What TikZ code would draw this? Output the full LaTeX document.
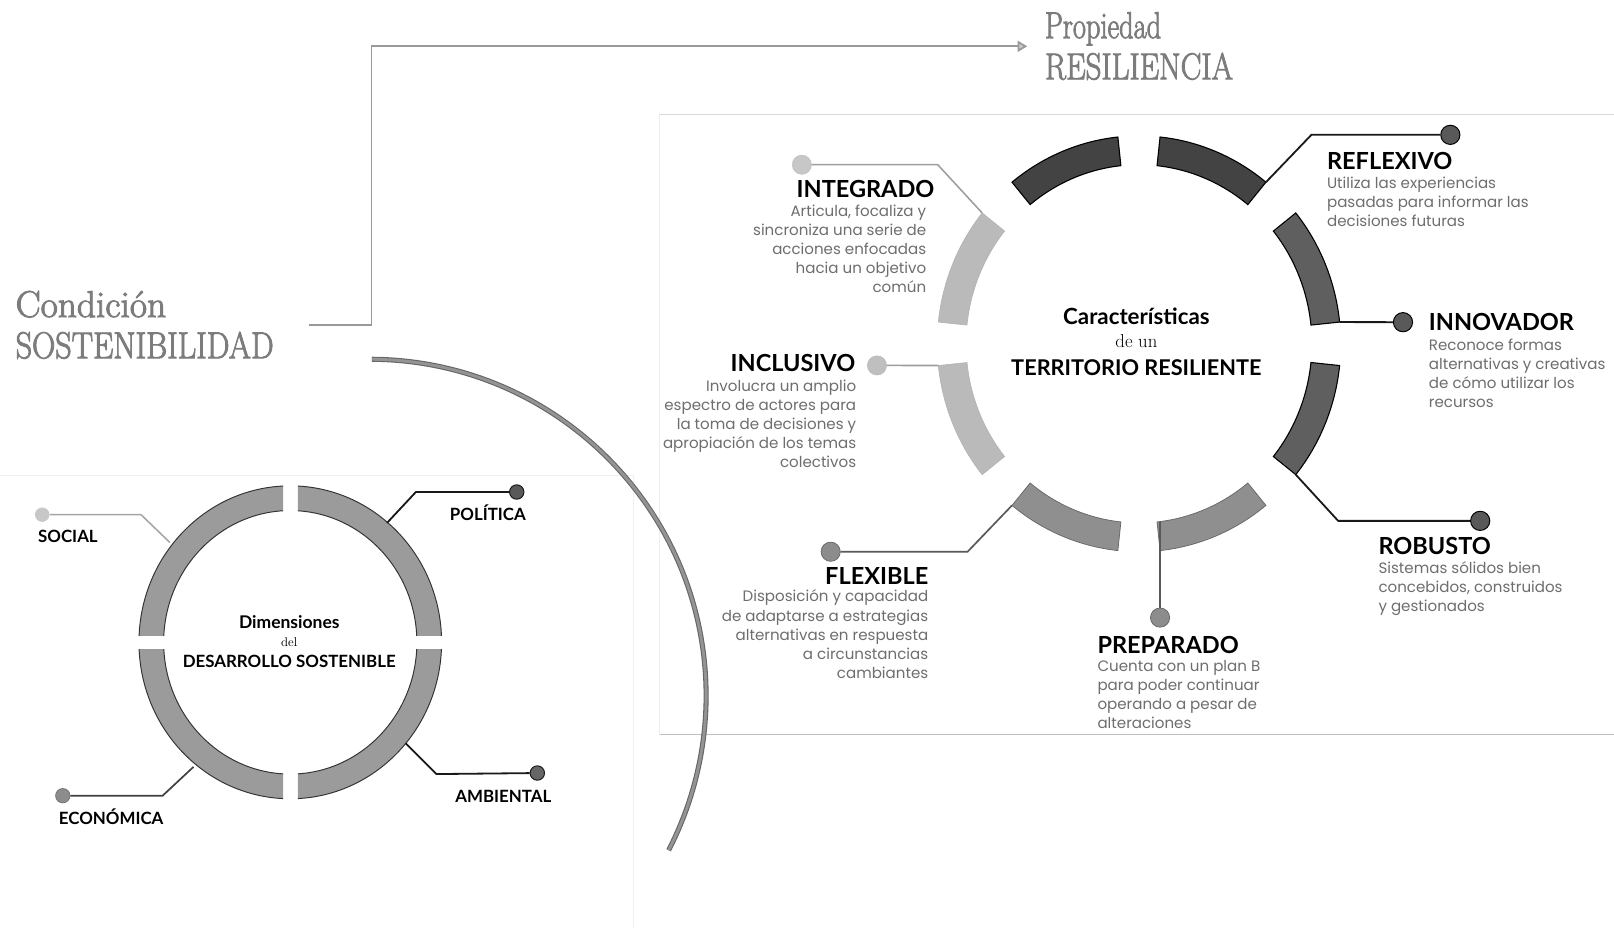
\documentclass[tikz,border=0pt]{standalone}
\usepackage{fontspec}
\usepackage{graphicx}
\usetikzlibrary{arrows.meta}
\newfontfamily\latof{Lato}
\newfontfamily\popf{Poppins}
\newfontfamily\bigf{Latin Modern Roman}[FakeBold=2.5]
\definecolor{descgray}{HTML}{6E6E6E}
\definecolor{titlegray}{HTML}{7C7C7C}
\definecolor{segdark}{HTML}{434343}
\definecolor{segmid}{HTML}{5F5F5F}
\definecolor{seglow}{HTML}{8F8F8F}
\definecolor{seglight}{HTML}{BABABA}
\definecolor{leftring}{HTML}{9B9B9B}
\newcommand\descfont{\popf\fontsize{12.5}{15.8}\selectfont}
\newcommand\ttlfont{\latof\bfseries\fontsize{19.5}{22}\selectfont}
\newcommand\bigtfont{\bigf\fontsize{31}{36}\selectfont}
% right ring geometry
\def\RCx{1106.5}\def\RCy{334}\def\RCa{196}\def\RCb{202}\def\RCai{168}\def\RCbi{174}
\newcommand\rcseg[3]{%
  \path[#1] ({\RCx+\RCa*cos(#2)},{\RCy+\RCb*sin(#2)})
    arc[start angle=#2,end angle=#3,x radius=\RCa,y radius=\RCb]
    -- ({\RCx+\RCai*cos(#3)},{\RCy+\RCbi*sin(#3)})
    arc[start angle=#3,end angle=#2,x radius=\RCai,y radius=\RCbi] -- cycle;}
\begin{document}
\begin{tikzpicture}[x=0.3mm,y=-0.3mm,
  desc/.style={font=\descfont,text=descgray,inner sep=0pt},
  ttl/.style={font=\ttlfont,text=black,inner sep=0pt},
  lbl/.style={font=\latof\bfseries\fontsize{14}{16}\selectfont,text=black,inner sep=0pt},
  bigt/.style={font=\bigtfont,text=titlegray,inner sep=0pt},
  dotsm/.style={circle,inner sep=0pt,minimum size=4.2mm},
  dotlg/.style={circle,inner sep=0pt,minimum size=5.6mm},
  cdark/.style={draw=black!90,line width=1.5pt},
  cmid/.style={draw=black!65,line width=1.4pt},
  clight/.style={draw=black!38,line width=1.3pt},
  panel/.style={line width=0.8pt}]
\useasboundingbox (0,0) rectangle (1568,902);
\fill[white] (0,0) rectangle (1568,902);

% faint panel edges
\draw[panel,color=black!6] (0,462) -- (615,462) -- (615,902);
\draw[panel,color=black!15] (641,111) -- (1568,111);
\draw[panel,color=black!7] (641,111) -- (641,714);
\draw[panel,color=black!25] (641,714) -- (1568,714);

% titles
\node[bigt,anchor=base west] (tCond) at (15,308) {\scalebox{1.0}[1]{Condición}};
\node[bigt,anchor=base west] (tSost) at (15,348) {\scalebox{0.86}[1]{SOSTENIBILIDAD}};
\node[bigt,anchor=base west] (tProp) at (1015,37) {\scalebox{0.76}[1]{Propiedad}};
\node[bigt,anchor=base west] (tRes) at (1015,77) {\scalebox{0.83}[1]{RESILIENCIA}};

% arrow from condition to property
\coordinate (aS) at (300,316);
\coordinate (aE) at (998,45);
\draw[color=black!40,line width=1.5pt,-{Triangle[length=8pt,width=9pt,fill=black!20]}]
  (aS) -- (361,316) -- (361,45) -- (aE);

% big arc
\draw[color=black!60,line width=4.2pt] (359,676) ++(-89.6:327) arc[start angle=-89.6,end angle=27.3,radius=327];
\draw[color=black!42,line width=2.4pt] (359,676) ++(-89.6:327) arc[start angle=-89.6,end angle=27.3,radius=327];

% ===== left ring =====
\def\Lring{\path[fill=leftring,draw=black!80,line width=0.8pt,even odd rule]
  (282,624) ellipse[x radius=147,y radius=152] (282,624) ellipse[x radius=123,y radius=128];}
\begin{scope}\clip (100,440) rectangle (275,617); \Lring \end{scope}
\begin{scope}\clip (289.5,440) rectangle (460,617); \Lring \end{scope}
\begin{scope}\clip (100,631) rectangle (275,800); \Lring \end{scope}
\begin{scope}\clip (289.5,631) rectangle (460,800); \Lring \end{scope}

\node[lbl,font=\latof\bfseries\fontsize{14.5}{16}\selectfont,anchor=base] (lDim) at (281,611) {Dimensiones};
\node[inner sep=0pt,font=\fontsize{10.5}{11}\selectfont,anchor=base] (lDel) at (281,628) {del};
\node[lbl,anchor=base] (lDes) at (281,648) {DESARROLLO SOSTENIBLE};

% left connectors
\node[dotsm,fill=black!22] (dSoc) at (41,500) {};
\coordinate (rSoc) at (165,527);
\draw[line width=1.3pt,color=black!35] (dSoc) -- (137,500) -- (rSoc);
\node[lbl,anchor=base] (lSoc) at (66,527) {SOCIAL};

\node[dotsm,fill=black!65,draw=black!90,line width=0.8pt] (dPol) at (502,478) {};
\coordinate (rPol) at (376,508);
\draw[cdark] (dPol) -- (404,478) -- (rPol);
\node[lbl,anchor=base] (lPol) at (474,506) {POLÍTICA};

\node[dotsm,fill=black!60,draw=black!90,line width=0.8pt] (dAmb) at (522,751) {};
\coordinate (rAmb) at (394,722);
\draw[cdark] (dAmb) -- (424,752) -- (rAmb);
\node[lbl,anchor=base] (lAmb) at (489,780) {AMBIENTAL};

\node[dotsm,fill=black!45,draw=black!55,line width=0.6pt] (dEco) at (61,773) {};
\coordinate (rEco) at (188,745);
\draw[line width=1.4pt,color=black!75] (dEco) -- (158,773) -- (rEco);
\node[lbl,anchor=base] (lEco) at (108,801) {ECONÓMICA};

% ===== right ring =====
\rcseg{fill=segdark,draw=black,line width=0.9pt}{231}{264}
\rcseg{fill=segdark,draw=black,line width=0.9pt}{276}{309}
\rcseg{fill=segmid,draw=black,line width=0.9pt}{321}{354}
\rcseg{fill=segmid,draw=black,line width=0.9pt}{6}{39}
\rcseg{fill=seglow,draw=black!60,line width=0.6pt}{51}{84}
\rcseg{fill=seglow,draw=black!60,line width=0.6pt}{96}{129}
\rcseg{fill=seglight,draw=black!30,line width=0.5pt}{141}{174}
\rcseg{fill=seglight,draw=black!30,line width=0.5pt}{186}{219}

\node[ttl,font=\latof\bfseries\fontsize{18.5}{21}\selectfont,anchor=base] (cCar) at (1104,315) {Características};
\node[inner sep=0pt,font=\fontsize{15.5}{17}\selectfont,anchor=base] (cDe) at (1104,338) {de un};
\node[ttl,font=\latof\bfseries\fontsize{18}{21}\selectfont,anchor=base] (cTer) at (1104,365) {TERRITORIO RESILIENTE};

% ring attachment points
\coordinate (sInt) at ({\RCx+\RCa*cos(219)},{\RCy+\RCb*sin(219)});
\coordinate (sInc) at ({\RCx+\RCa*cos(174)},{\RCy+\RCb*sin(174)});
\coordinate (sRef) at ({\RCx+\RCa*cos(309)},{\RCy+\RCb*sin(309)});
\coordinate (sInn) at ({\RCx+\RCa*cos(354)},{\RCy+\RCb*sin(354)});
\coordinate (sRob) at ({\RCx+\RCa*cos(39)},{\RCy+\RCb*sin(39)});
\coordinate (sPre) at (1127,{\RCy+\RCbi*sin(84)});
\coordinate (sFle) at ({\RCx+\RCa*cos(129)},{\RCy+\RCb*sin(129)});

% INTEGRADO
\node[dotlg,fill=black!22,draw=black!25,line width=0.4pt] (dInt) at (779,160) {};
\draw[clight] (dInt) -- (911,160) -- (sInt);
\node[ttl,anchor=base east] (tInt) at (908,192) {INTEGRADO};
\node[desc,align=right,anchor=north east] (xInt) at (900,199)
 {Articula, focaliza y\\sincroniza una serie de\\acciones enfocadas\\hacia un objetivo\\común};

% INCLUSIVO
\node[dotlg,fill=black!25,draw=black!28,line width=0.4pt] (dInc) at (852,355) {};
\draw[clight] (dInc) -- (sInc);
\node[ttl,anchor=base east] (tInc) at (831,361) {INCLUSIVO};
\node[desc,align=right,anchor=north east] (xInc) at (832,369)
 {Involucra un amplio\\espectro de actores para\\la toma de decisiones y\\apropiación de los temas\\colectivos};

% FLEXIBLE
\node[dotlg,fill=black!45,draw=black!60,line width=0.6pt] (dFle) at (807,536) {};
\draw[cmid] (dFle) -- (940,536) -- (sFle);
\node[ttl,anchor=base east] (tFle) at (902,568) {FLEXIBLE};
\node[desc,align=right,anchor=north east] (xFle) at (902,573)
 {Disposición y capacidad\\de adaptarse a estrategias\\alternativas en respuesta\\a circunstancias\\cambiantes};

% PREPARADO
\node[dotlg,fill=black!45,draw=black!60,line width=0.6pt] (dPre) at (1127,600) {};
\draw[cmid] (sPre) -- (dPre);
\node[ttl,anchor=base west] (tPre) at (1066,635) {PREPARADO};
\node[desc,align=left,anchor=north west] (xPre) at (1066,641)
 {Cuenta con un plan B\\para poder continuar\\operando a pesar de\\alteraciones};

% ROBUSTO
\node[dotlg,fill=black!65,draw=black,line width=0.8pt] (dRob) at (1438,506) {};
\draw[cdark] (sRob) -- (1300,506) -- (dRob);
\node[ttl,anchor=base west] (tRob) at (1339,539) {ROBUSTO};
\node[desc,align=left,anchor=north west] (xRob) at (1339,545)
 {Sistemas sólidos bien\\concebidos, construidos\\y gestionados};

% INNOVADOR
\node[dotlg,fill=black!65,draw=black,line width=0.8pt] (dInn) at (1363,313) {};
\draw[cdark] (sInn) -- (dInn);
\node[ttl,anchor=base west] (tInn) at (1388,321) {INNOVADOR};
\node[desc,align=left,anchor=north west] (xInn) at (1388,329)
 {Reconoce formas\\alternativas y creativas\\de cómo utilizar los\\recursos};

% REFLEXIVO
\node[dotlg,fill=black!65,draw=black,line width=0.8pt] (dRef) at (1409,131) {};
\draw[cdark] (sRef) -- (1274,131) -- (dRef);
\node[ttl,anchor=base west] (tRef) at (1289,165) {REFLEXIVO};
\node[desc,align=left,anchor=north west] (xRef) at (1289,172)
 {Utiliza las experiencias\\pasadas para informar las\\decisiones futuras};
\end{tikzpicture}
\end{document}
